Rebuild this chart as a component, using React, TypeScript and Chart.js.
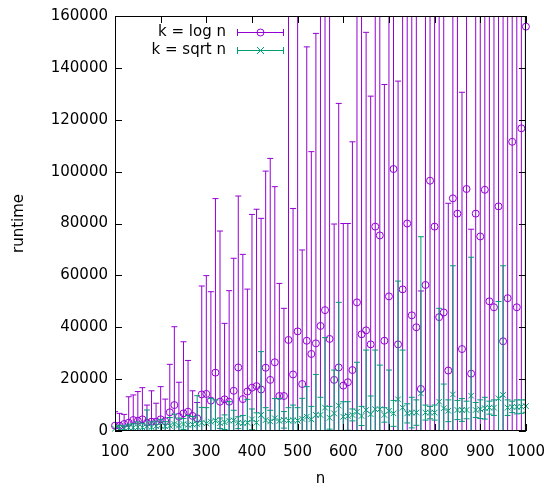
import React, { useEffect, useRef } from 'react';
import { Chart, registerables } from 'chart.js';

Chart.register(...registerables);

// problem size n
const nValues = [
  100, 110, 120, 130, 140, 150, 160, 170, 180, 190,
  200, 210, 220, 230, 240, 250, 260, 270, 280, 290,
  300, 310, 320, 330, 340, 350, 360, 370, 380, 390,
  400, 410, 420, 430, 440, 450, 460, 470, 480, 490,
  500, 510, 520, 530, 540, 550, 560, 570, 580, 590,
  600, 610, 620, 630, 640, 650, 660, 670, 680, 690,
  700, 710, 720, 730, 740, 750, 760, 770, 780, 790,
  800, 810, 820, 830, 840, 850, 860, 870, 880, 890,
  900, 910, 920, 930, 940, 950, 960, 970, 980, 990,
  1000,
];

// k = log n : mean runtime
const logMean = [
  2050, 2050, 2700, 3200, 4240, 3970, 4500, 3200, 3600, 3600,
  4500, 3800, 7200, 10000, 5500, 6800, 7450, 5800, 4900, 14100,
  14300, 11700, 22500, 11300, 12200, 11300, 15500, 24500, 12300, 15200,
  16700, 17300, 16000, 24400, 19700, 26500, 13500, 13500, 35100, 21800,
  38400, 18100, 34800, 29700, 33800, 40500, 46600, 35500, 19700, 24500,
  17500, 18800, 23500, 49600, 37300, 38800, 33400, 78800, 75400, 34800,
  51900, 101000, 33400, 54600, 80000, 44600, 40000, 16200, 56300, 96500,
  78800, 43900, 45700, 23300, 89700, 83800, 31600, 93300, 22100, 83800,
  75000, 93000, 50000, 47700, 86600, 34600, 51200, 111500, 47700, 116700,
  155900,
];

// k = log n : mean + std deviation
const logUpper = [
  7450, 6800, 6400, 13200, 13900, 15200, 16700, 10000, 15500, 10700,
  17100, 12300, 25700, 40200, 18800, 34400, 27200, 15500, 11000, 55900,
  59900, 53700, 89600, 77100, 41500, 54100, 66600, 90600, 68100, 54700,
  83500, 85500, 82000, 100200, 105100, 94200, 56900, 47300, 185000, 85800,
  175000, 69800, 148100, 107700, 153300, 190000, 200000, 170000, 79800, 126300,
  80000, 80000, 111500, 210000, 165000, 153700, 129100, 230000, 220000, 133600,
  180000, 260000, 134900, 200000, 240000, 175000, 170000, 54000, 190000, 270000,
  230000, 180000, 190000, 87800, 250000, 240000, 130600, 260000, 77800, 240000,
  220000, 260000, 185000, 180000, 250000, 170000, 190000, 300000, 185000, 310000,
  400000,
];

// k = sqrt n : mean runtime
const sqrtMean = [
  900, 1000, 1200, 1300, 1300, 1500, 1400, 1800, 1500, 1900,
  2100, 1800, 2000, 2700, 2100, 2700, 2400, 2500, 2700, 3200,
  2900, 3600, 4000, 3000, 3400, 4000, 4100, 3200, 3000, 3200,
  4500, 3200, 6200, 4200, 3700, 4900, 3900, 4300, 4000, 4100,
  4000, 4700, 5500, 4500, 6200, 6200, 9000, 5100, 6800, 9800,
  5500, 5800, 6200, 7400, 5800, 8100, 6500, 8400, 8400, 6200,
  7800, 6800, 12200, 9000, 6800, 7100, 7100, 14500, 7100, 7100,
  7100, 11300, 8800, 7800, 14100, 8100, 8100, 8100, 13600, 8100,
  8400, 8800, 9000, 9000, 12600, 13900, 9000, 9300, 9300, 9400,
  9600,
];

// k = sqrt n : mean + std deviation
const sqrtUpper = [
  1800, 2200, 2000, 2600, 2800, 3500, 3000, 8100, 3500, 3800,
  4500, 3600, 5200, 6500, 5000, 4800, 6000, 5600, 13600, 9100,
  9000, 12600, 12000, 5000, 6200, 11300, 8000, 5500, 6000, 12200,
  8500, 7000, 30600, 9000, 8000, 12500, 12500, 7500, 9000, 10000,
  9000, 12600, 17100, 9500, 21800, 13000, 36000, 9500, 23500, 49600,
  11300, 11300, 8500, 26500, 9500, 31200, 13500, 31200, 25400, 9000,
  23500, 11800, 57800, 31200, 10500, 13000, 12000, 74900, 10000, 9500,
  10000, 47300, 18100, 12000, 63700, 11800, 12500, 11500, 67000, 11000,
  12000, 13000, 11500, 12000, 49900, 63700, 12000, 11500, 12000, 12000,
  12000,
];

const seriesLabels = ['k = log n', 'k = sqrt n'];
const xTicks = [100, 200, 300, 400, 500, 600, 700, 800, 900, 1000];
const yTicks = [0, 20000, 40000, 60000, 80000, 100000, 120000, 140000, 160000];

const PURPLE = '#9400d3';
const GREEN = '#009e73';
const FONT = 'DejaVu Sans';

const errorBarPlugin = {
  id: 'gnuErrorBars',
  beforeDatasetDraw(chart: any, args: any) {
    const ds = chart.data.datasets[args.index];
    if (!ds.upperValues) return;
    const { ctx, chartArea: a, scales } = chart;
    const xs = scales.x;
    const ys = scales.y;
    ctx.save();
    ctx.beginPath();
    ctx.rect(a.left, a.top, a.right - a.left, a.bottom - a.top);
    ctx.clip();
    ctx.strokeStyle = ds.borderColor;
    ctx.lineWidth = 1;
    ctx.beginPath();
    ds.data.forEach((p: any, i: number) => {
      const hi = ds.upperValues[i];
      const lo = 2 * p.y - hi;
      const px = xs.getPixelForValue(p.x);
      const yHi = ys.getPixelForValue(hi);
      const yLo = ys.getPixelForValue(lo);
      ctx.moveTo(px, yLo);
      ctx.lineTo(px, yHi);
      ctx.moveTo(px - 3, yHi);
      ctx.lineTo(px + 3, yHi);
      ctx.moveTo(px - 3, yLo);
      ctx.lineTo(px + 3, yLo);
    });
    ctx.stroke();
    ctx.restore();
  },
};

const framePlugin = {
  id: 'gnuFrame',
  afterDraw(chart: any) {
    const { ctx, chartArea: a, scales } = chart;
    const xs = scales.x;
    const ys = scales.y;
    const T = 7;
    ctx.save();
    ctx.strokeStyle = '#000';
    ctx.lineWidth = 1;
    ctx.beginPath();
    xTicks.forEach((v) => {
      const px = Math.round(xs.getPixelForValue(v)) + 0.5;
      ctx.moveTo(px, a.bottom);
      ctx.lineTo(px, a.bottom - T);
      ctx.moveTo(px, a.top);
      ctx.lineTo(px, a.top + T);
    });
    yTicks.forEach((v) => {
      const py = Math.round(ys.getPixelForValue(v)) + 0.5;
      ctx.moveTo(a.left, py);
      ctx.lineTo(a.left + T, py);
      ctx.moveTo(a.right, py);
      ctx.lineTo(a.right - T, py);
    });
    ctx.stroke();
    ctx.strokeRect(a.left + 0.5, a.top + 0.5, a.right - a.left - 1, a.bottom - a.top - 1);

    // legend (gnuplot style, inside top-left)
    const colors = [PURPLE, GREEN];
    const rowsY = [32, 50];
    ctx.font = `15px "${FONT}"`;
    ctx.textAlign = 'right';
    ctx.textBaseline = 'middle';
    seriesLabels.forEach((label, k) => {
      const y = rowsY[k] + 0.5;
      ctx.fillStyle = '#000';
      ctx.fillText(label, 226, rowsY[k]);
      ctx.strokeStyle = colors[k];
      ctx.beginPath();
      ctx.moveTo(237, y);
      ctx.lineTo(284, y);
      ctx.moveTo(237.5, y - 3.5);
      ctx.lineTo(237.5, y + 3.5);
      ctx.moveTo(283.5, y - 3.5);
      ctx.lineTo(283.5, y + 3.5);
      ctx.stroke();
      ctx.beginPath();
      if (k === 0) {
        ctx.arc(260.5, y, 3.5, 0, Math.PI * 2);
      } else {
        ctx.moveTo(257, y - 3.5);
        ctx.lineTo(264, y + 3.5);
        ctx.moveTo(264, y - 3.5);
        ctx.lineTo(257, y + 3.5);
      }
      ctx.stroke();
    });
    ctx.restore();
  },
};

export default function App() {
  const ref = useRef<HTMLCanvasElement | null>(null);

  useEffect(() => {
    document.body.style.margin = '0';
    const canvas = ref.current;
    if (!canvas) return;
    const chart = new Chart(canvas, {
      type: 'scatter',
      data: {
        datasets: [
          {
            label: seriesLabels[1],
            data: nValues.map((n, i) => ({ x: n, y: sqrtMean[i] })),
            upperValues: sqrtUpper,
            borderColor: GREEN,
            backgroundColor: 'rgba(0,0,0,0)',
            pointStyle: 'crossRot',
            pointRadius: 4,
            pointBorderWidth: 1,
            clip: false,
          } as any,
          {
            label: seriesLabels[0],
            data: nValues.map((n, i) => ({ x: n, y: logMean[i] })),
            upperValues: logUpper,
            borderColor: PURPLE,
            backgroundColor: 'rgba(0,0,0,0)',
            pointStyle: 'circle',
            pointRadius: 3.5,
            pointBorderWidth: 1,
            clip: false,
          } as any,
        ],
      },
      options: {
        responsive: false,
        animation: false,
        events: [],
        layout: { padding: { top: 15, right: 26, left: 0, bottom: 0 } },
        plugins: {
          legend: { display: false },
          tooltip: { enabled: false },
        },
        scales: {
          x: {
            type: 'linear',
            min: 100,
            max: 1000,
            afterFit: (s: any) => { s.height = 52; },
            afterBuildTicks: (s: any) => { s.ticks = xTicks.map((v) => ({ value: v })); },
            grid: { display: false, drawTicks: false },
            border: { display: false },
            ticks: {
              padding: 12,
              color: '#000',
              font: { family: FONT, size: 15 },
              maxRotation: 0,
              callback: (v: any) => String(v),
            },
            title: {
              display: true,
              text: 'n',
              color: '#000',
              font: { family: FONT, size: 15 },
              padding: { top: 0, bottom: -5 },
            },
          },
          y: {
            type: 'linear',
            min: 0,
            max: 160000,
            afterFit: (s: any) => { s.width = 115; },
            afterBuildTicks: (s: any) => { s.ticks = yTicks.map((v) => ({ value: v })); },
            grid: { display: false, drawTicks: false },
            border: { display: false },
            ticks: {
              padding: 7,
              color: '#000',
              font: { family: FONT, size: 15 },
              callback: (v: any) => String(v),
            },
            title: {
              display: true,
              text: 'runtime',
              color: '#000',
              font: { family: FONT, size: 15 },
              padding: { top: 10, bottom: 0 },
            },
          },
        },
      },
      plugins: [errorBarPlugin, framePlugin],
    } as any);
    return () => chart.destroy();
  }, []);

  return (
    <div style={{ width: 557, height: 483 }}>
      <canvas ref={ref} width={557} height={483} style={{ display: 'block' }} />
    </div>
  );
}
